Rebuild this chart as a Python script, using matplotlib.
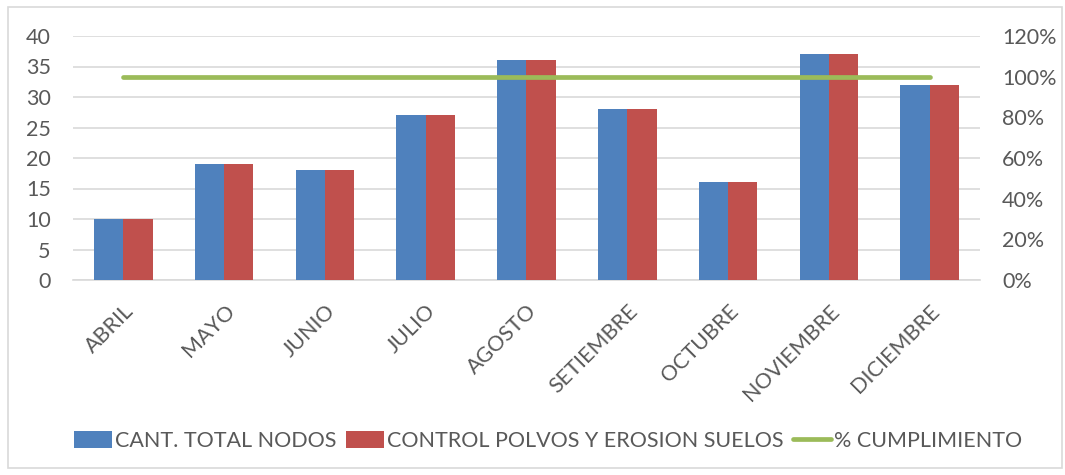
import matplotlib
matplotlib.use("Agg")
import matplotlib.pyplot as plt
from matplotlib.ticker import FuncFormatter
from matplotlib.patches import Rectangle
import numpy as np

plt.rcParams['font.family'] = ['Lato', 'DejaVu Sans']

months = ["ABRIL", "MAYO", "JUNIO", "JULIO", "AGOSTO", "SETIEMBRE", "OCTUBRE", "NOVIEMBRE", "DICIEMBRE"]
total_nodos = [10, 19, 18, 27, 36, 28, 16, 37, 32]
control_polvos = [10, 19, 18, 27, 36, 28, 16, 37, 32]
cumplimiento = [1.0, 1.0, 1.0, 1.0, 1.0, 1.0, 1.0, 1.0, 1.0]

blue = "#4F81BD"
red = "#C0504D"
green = "#9BBB59"
txt = "#595959"
grid = "#D9D9D9"

fig = plt.figure(figsize=(10.65, 4.75), dpi=100)
fig.patches.append(Rectangle((8/1065, 1-468/475), 1054/1065, 461/475, transform=fig.transFigure,
                             fill=False, edgecolor=grid, linewidth=1.2))
ax = fig.add_axes([73/1065, 1-280/475, (980-73)/1065, (280-36)/475])
x = np.arange(len(months))
w = 0.29
ax.bar(x - w/2, total_nodos, w, color=blue, label="CANT. TOTAL NODOS", zorder=3)
ax.bar(x + w/2, control_polvos, w, color=red, label="CONTROL POLVOS Y EROSION SUELOS", zorder=3)
ax.set_xlim(-0.5, len(months) - 0.5)
ax.set_ylim(0, 40)
ax.set_yticks(range(0, 41, 5))
ax.yaxis.grid(True, color=grid, linewidth=1.2, zorder=0)
ax.set_axisbelow(True)
for s in ["top", "right", "left"]:
    ax.spines[s].set_visible(False)
ax.spines["bottom"].set_color(grid)
ax.spines["bottom"].set_linewidth(1.2)
ax.tick_params(axis="both", length=0, colors=txt, labelsize=15.5)
ax.tick_params(axis="y", pad=16)
ax.set_xticks(x)
ax.set_xticklabels(months, rotation=45, ha="right", rotation_mode="anchor")
ax.tick_params(axis="x", pad=15)

ax2 = ax.twinx()
ax2.plot(x, cumplimiento, color=green, linewidth=3.4, solid_capstyle="round", label="% CUMPLIMIENTO", zorder=4)
ax2.set_ylim(0, 1.2)
ax2.set_yticks(np.arange(0, 1.21, 0.2))
ax2.yaxis.set_major_formatter(FuncFormatter(lambda v, p: f"{v*100:.0f}%"))
for s in ["top", "right", "left", "bottom"]:
    ax2.spines[s].set_visible(False)
ax2.tick_params(axis="y", length=0, colors=txt, labelsize=15.5, pad=16)

h1, l1 = ax.get_legend_handles_labels()
h2, l2 = ax2.get_legend_handles_labels()
leg = fig.legend(h1 + h2, l1 + l2, loc="center", bbox_to_anchor=(548/1065, 1-441/475), ncol=3,
                 frameon=False, fontsize=15.5, handlelength=1.75, handleheight=0.85,
                 handletextpad=0.15, columnspacing=0.45, labelcolor=txt)

fig.savefig("out.png", dpi=100)
